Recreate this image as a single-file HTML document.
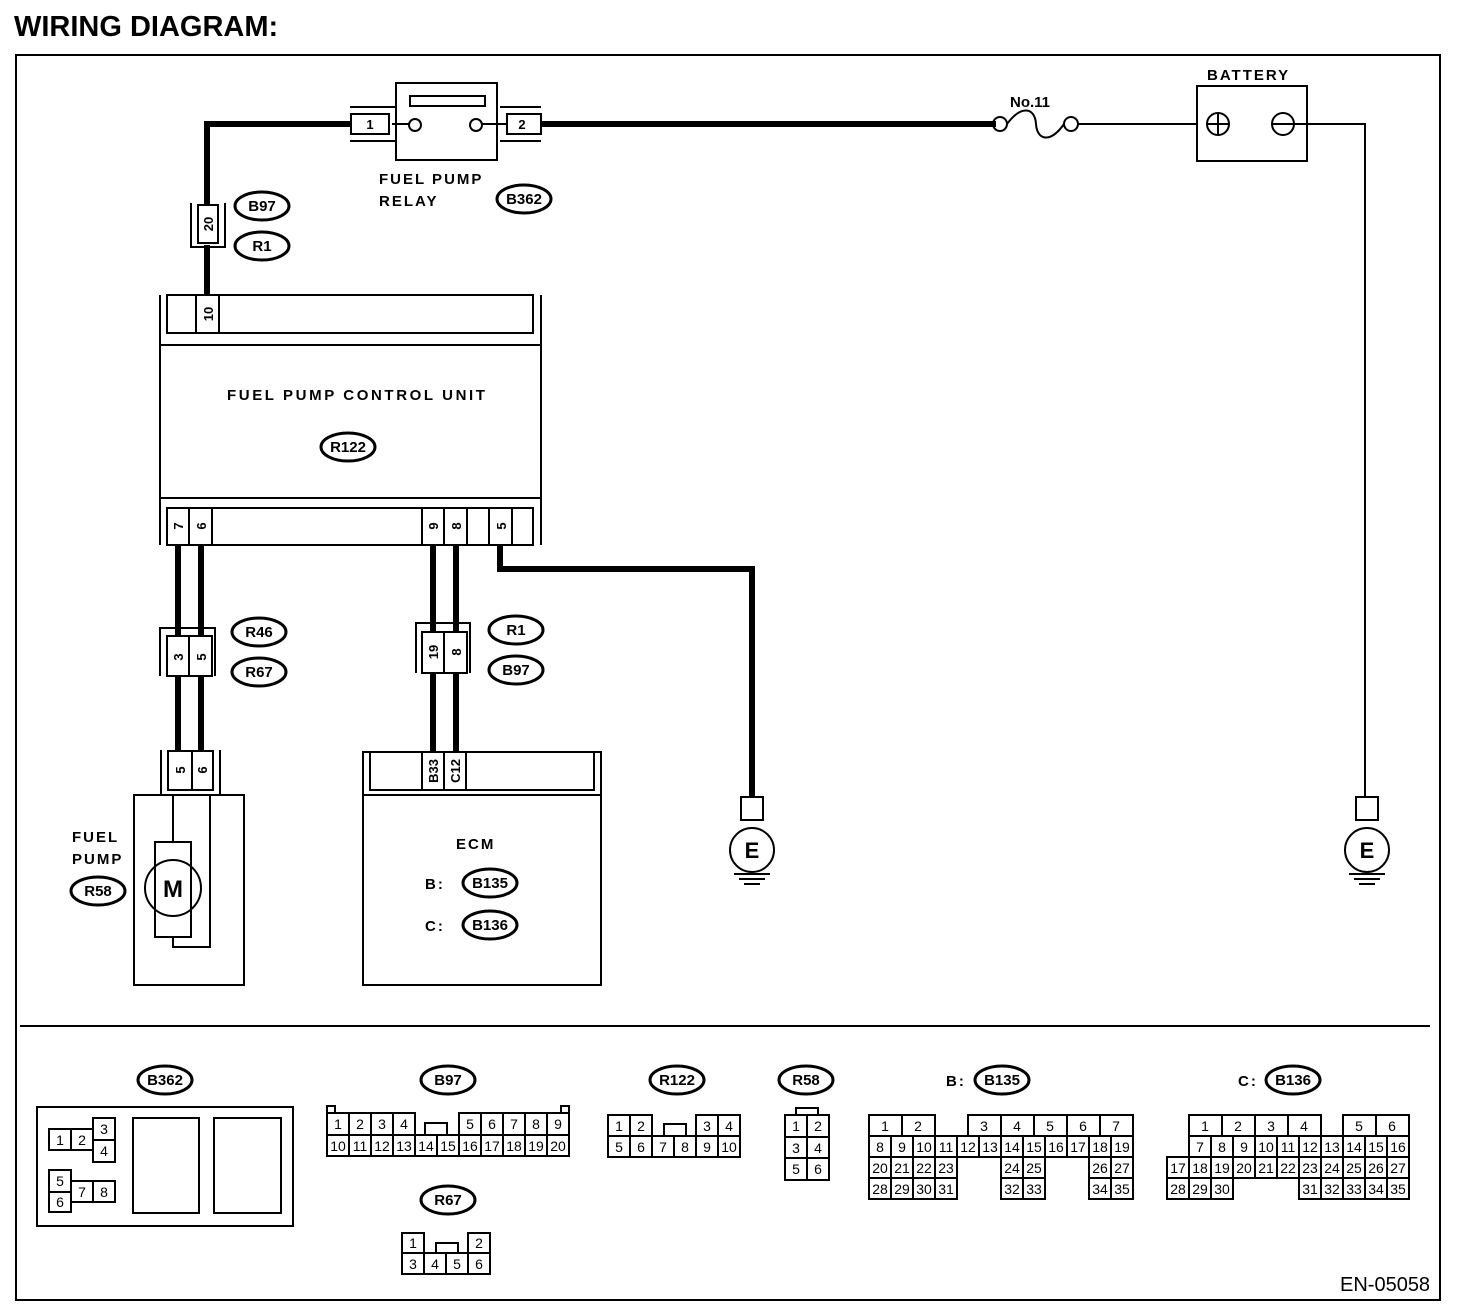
<!DOCTYPE html>
<html><head><meta charset="utf-8"><style>
html,body{margin:0;padding:0;background:#fff}
svg{display:block}
text{font-family:"Liberation Sans",Arial,sans-serif;fill:#000}
.c rect{fill:#fff;stroke:#000;stroke-width:2}
.c text{font-size:14px;text-anchor:middle}
.l{font-size:15px;font-weight:bold;letter-spacing:2px}
.o ellipse{fill:#fff;stroke:#000;stroke-width:3}
.o text{font-size:15px;font-weight:bold;text-anchor:middle}
.w{stroke:#000;stroke-width:6;fill:none}
.t{stroke:#000;stroke-width:2;fill:none}
.p rect{fill:#fff;stroke:#000;stroke-width:2}
.p text{font-size:13px;font-weight:bold;text-anchor:middle}
</style></head><body>
<svg width="1472" height="1316" viewBox="0 0 1472 1316" xmlns="http://www.w3.org/2000/svg">
<text x="14" y="36" style="font-size:29px;font-weight:bold">WIRING DIAGRAM:</text>
<rect x="16" y="55" width="1424" height="1245" class="t"/>
<line x1="20" y1="1026" x2="1430" y2="1026" class="t"/>

<!-- wires -->
<polyline class="w" points="350,124 207,124 207,205"/>
<line class="w" x1="207" y1="245" x2="207" y2="296"/>
<line class="w" x1="541" y1="124" x2="996" y2="124"/>
<polyline class="t" points="1077,124 1197,124"/>
<polyline class="t" points="1295,124 1365,124 1365,797"/>
<line class="w" x1="178" y1="545" x2="178" y2="752"/>
<line class="w" x1="201" y1="545" x2="201" y2="752"/>
<line class="w" x1="433" y1="545" x2="433" y2="754"/>
<line class="w" x1="456" y1="545" x2="456" y2="754"/>
<polyline class="w" points="500,545 500,569 752,569 752,797"/>

<!-- relay -->
<rect x="396" y="83" width="101" height="77" class="t" fill="#fff"/>
<rect x="410" y="96" width="75" height="10" class="t"/>
<line class="t" x1="392" y1="124" x2="410" y2="124"/>
<line class="t" x1="482" y1="124" x2="507" y2="124"/>
<circle cx="415" cy="125" r="6" class="t" fill="#fff"/>
<circle cx="476" cy="125" r="6" class="t" fill="#fff"/>
<g class="p">
<line class="t" x1="350" y1="107" x2="395" y2="107"/><line class="t" x1="350" y1="141" x2="395" y2="141"/>
<rect x="351" y="114" width="38" height="20"/><text x="370" y="129">1</text>
<line class="t" x1="500" y1="107" x2="541" y2="107"/><line class="t" x1="500" y1="141" x2="541" y2="141"/>
<rect x="507" y="114" width="34" height="20"/><text x="522" y="129">2</text>
</g>
<text x="379" y="184" class="l">FUEL PUMP</text>
<text x="379" y="206" class="l">RELAY</text>

<!-- fuse -->
<circle cx="1000" cy="124" r="7" class="t" fill="#fff"/>
<circle cx="1071" cy="124" r="7" class="t" fill="#fff"/>
<path class="t" d="M1007,124 C1022,104 1035,108 1036,124 C1037,140 1050,144 1064,124"/>
<text x="1010" y="107" style="font-size:15px;font-weight:bold">No.11</text>

<!-- battery -->
<rect x="1197" y="86" width="110" height="75" class="t"/>
<text x="1207" y="80" class="l">BATTERY</text>
<circle cx="1218" cy="124" r="11" class="t"/><line class="t" x1="1207" y1="124" x2="1229" y2="124"/><line class="t" x1="1218" y1="113" x2="1218" y2="135"/>
<circle cx="1283" cy="124" r="11" class="t"/><line class="t" x1="1272" y1="124" x2="1294" y2="124"/>

<!-- connector 20 -->
<polyline class="t" points="191,203 191,247 225,247 225,203"/>
<g class="p"><rect x="198" y="205" width="20" height="38"/><text transform="translate(213,224) rotate(-90)">20</text></g>

<!-- FPCU -->
<line class="t" x1="160" y1="295" x2="160" y2="545"/>
<line class="t" x1="541" y1="295" x2="541" y2="545"/>
<line class="t" x1="160" y1="345" x2="541" y2="345"/>
<line class="t" x1="160" y1="498" x2="541" y2="498"/>
<rect x="167" y="295" width="366" height="38" class="t"/>
<rect x="167" y="508" width="366" height="37" class="t"/>
<g class="p">
<rect x="196" y="295" width="23" height="38"/><text transform="translate(213,314) rotate(-90)">10</text>
<rect x="167" y="508" width="22" height="37"/><text transform="translate(183,526) rotate(-90)">7</text>
<rect x="189" y="508" width="23" height="37"/><text transform="translate(206,526) rotate(-90)">6</text>
<rect x="422" y="508" width="22" height="37"/><text transform="translate(438,526) rotate(-90)">9</text>
<rect x="444" y="508" width="23" height="37"/><text transform="translate(461,526) rotate(-90)">8</text>
<rect x="467" y="508" width="22" height="37"/>
<rect x="489" y="508" width="23" height="37"/><text transform="translate(506,526) rotate(-90)">5</text>
</g>
<text x="227" y="400" class="l" style="letter-spacing:2.6px">FUEL PUMP CONTROL UNIT</text>

<!-- R46/R67 connector -->
<polyline class="t" points="160,676 160,628 215,628 215,676"/>
<g class="p"><rect x="167" y="636" width="22" height="40"/><text transform="translate(183,657) rotate(-90)">3</text>
<rect x="189" y="636" width="23" height="40"/><text transform="translate(206,657) rotate(-90)">5</text></g>
<!-- R1/B97 connector -->
<polyline class="t" points="416,673 416,623 470,623 470,673"/>
<g class="p"><rect x="422" y="632" width="22" height="41"/><text transform="translate(438,652) rotate(-90)">19</text>
<rect x="444" y="632" width="23" height="41"/><text transform="translate(461,652) rotate(-90)">8</text></g>

<!-- fuel pump -->
<line class="t" x1="161" y1="750" x2="161" y2="795"/><line class="t" x1="220" y1="750" x2="220" y2="795"/>
<rect x="134" y="795" width="110" height="190" class="t"/>
<g class="p"><rect x="168" y="751" width="24" height="39"/><text transform="translate(185,770) rotate(-90)">5</text>
<rect x="192" y="751" width="21" height="39"/><text transform="translate(207,770) rotate(-90)">6</text></g>
<polyline class="t" points="173,795 173,842"/>
<rect x="155" y="842" width="36" height="95" class="t"/>
<polyline class="t" points="173,937 173,947 210,947 210,795"/>
<circle cx="173" cy="888" r="28" class="t" fill="#fff"/>
<text x="173" y="897" style="font-size:24px;font-weight:bold;text-anchor:middle">M</text>
<text x="72" y="842" class="l">FUEL</text>
<text x="72" y="864" class="l">PUMP</text>

<!-- ECM -->
<rect x="363" y="752" width="238" height="233" class="t"/>
<rect x="370" y="752" width="224" height="38" class="t"/>
<line class="t" x1="363" y1="795" x2="601" y2="795"/>
<g class="p"><rect x="422" y="752" width="22" height="38"/><text transform="translate(438,771) rotate(-90)">B33</text>
<rect x="444" y="752" width="22" height="38"/><text transform="translate(460,771) rotate(-90)">C12</text></g>
<text x="456" y="849" class="l">ECM</text>
<text x="425" y="889" class="l">B:</text>
<text x="425" y="931" class="l">C:</text>

<!-- grounds -->
<g>
<rect x="741" y="797" width="22" height="23" class="t"/>
<circle cx="752" cy="850" r="22" class="t"/>
<text x="752" y="858" style="font-size:22px;font-weight:bold;text-anchor:middle">E</text>
<line class="t" x1="734" y1="874" x2="770" y2="874"/><line class="t" x1="739" y1="879" x2="765" y2="879"/><line class="t" x1="744" y1="884" x2="760" y2="884"/>
</g>
<g>
<rect x="1356" y="797" width="22" height="23" class="t"/>
<circle cx="1367" cy="850" r="22" class="t"/>
<text x="1367" y="858" style="font-size:22px;font-weight:bold;text-anchor:middle">E</text>
<line class="t" x1="1349" y1="874" x2="1385" y2="874"/><line class="t" x1="1354" y1="879" x2="1380" y2="879"/><line class="t" x1="1359" y1="884" x2="1375" y2="884"/>
</g>

<!-- ovals -->
<g class="o">
<ellipse cx="262" cy="206" rx="27" ry="14"/><text x="262" y="211">B97</text>
<ellipse cx="262" cy="246" rx="27" ry="14"/><text x="262" y="251">R1</text>
<ellipse cx="524" cy="199" rx="27" ry="14"/><text x="524" y="204">B362</text>
<ellipse cx="348" cy="447" rx="27" ry="14"/><text x="348" y="452">R122</text>
<ellipse cx="259" cy="632" rx="27" ry="14"/><text x="259" y="637">R46</text>
<ellipse cx="259" cy="672" rx="27" ry="14"/><text x="259" y="677">R67</text>
<ellipse cx="516" cy="630" rx="27" ry="14"/><text x="516" y="635">R1</text>
<ellipse cx="516" cy="670" rx="27" ry="14"/><text x="516" y="675">B97</text>
<ellipse cx="98" cy="891" rx="27" ry="14"/><text x="98" y="896">R58</text>
<ellipse cx="490" cy="883" rx="27" ry="14"/><text x="490" y="888">B135</text>
<ellipse cx="490" cy="925" rx="27" ry="14"/><text x="490" y="930">B136</text>
<ellipse cx="165" cy="1080" rx="27" ry="14"/><text x="165" y="1085">B362</text>
<ellipse cx="448" cy="1080" rx="27" ry="14"/><text x="448" y="1085">B97</text>
<ellipse cx="677" cy="1080" rx="27" ry="14"/><text x="677" y="1085">R122</text>
<ellipse cx="806" cy="1080" rx="27" ry="14"/><text x="806" y="1085">R58</text>
<ellipse cx="1002" cy="1080" rx="27" ry="14"/><text x="1002" y="1085">B135</text>
<ellipse cx="1293" cy="1080" rx="27" ry="14"/><text x="1293" y="1085">B136</text>
<ellipse cx="448" cy="1200" rx="27" ry="14"/><text x="448" y="1205">R67</text>
</g>
<text x="946" y="1086" class="l">B:</text>
<text x="1238" y="1086" class="l">C:</text>

<!-- connector faces -->
<g class="c">
<rect x="37" y="1107" width="256" height="119"/>
<rect x="133" y="1118" width="66" height="95"/>
<rect x="214" y="1118" width="67" height="95"/>
<rect x="49" y="1129" width="22" height="21"/><text x="60" y="1145">1</text>
<rect x="71" y="1129" width="22" height="21"/><text x="82" y="1145">2</text>
<rect x="93" y="1118" width="22" height="22"/><text x="104" y="1134">3</text>
<rect x="93" y="1140" width="22" height="22"/><text x="104" y="1156">4</text>
<rect x="49" y="1170" width="22" height="22"/><text x="60" y="1186">5</text>
<rect x="49" y="1192" width="22" height="20"/><text x="60" y="1207">6</text>
<rect x="71" y="1181" width="22" height="21"/><text x="82" y="1197">7</text>
<rect x="93" y="1181" width="22" height="21"/><text x="104" y="1197">8</text>

<rect x="327" y="1106" width="8" height="7"/><rect x="561" y="1106" width="8" height="7"/>
<rect x="425" y="1123" width="22" height="12"/>
<rect x="327" y="1113" width="22" height="22"/><text x="338" y="1129">1</text>
<rect x="349" y="1113" width="22" height="22"/><text x="360" y="1129">2</text>
<rect x="371" y="1113" width="22" height="22"/><text x="382" y="1129">3</text>
<rect x="393" y="1113" width="22" height="22"/><text x="404" y="1129">4</text>
<rect x="459" y="1113" width="22" height="22"/><text x="470" y="1129">5</text>
<rect x="481" y="1113" width="22" height="22"/><text x="492" y="1129">6</text>
<rect x="503" y="1113" width="22" height="22"/><text x="514" y="1129">7</text>
<rect x="525" y="1113" width="22" height="22"/><text x="536" y="1129">8</text>
<rect x="547" y="1113" width="22" height="22"/><text x="558" y="1129">9</text>
<rect x="327" y="1135" width="22" height="21"/><text x="338" y="1151">10</text>
<rect x="349" y="1135" width="22" height="21"/><text x="360" y="1151">11</text>
<rect x="371" y="1135" width="22" height="21"/><text x="382" y="1151">12</text>
<rect x="393" y="1135" width="22" height="21"/><text x="404" y="1151">13</text>
<rect x="415" y="1135" width="22" height="21"/><text x="426" y="1151">14</text>
<rect x="437" y="1135" width="22" height="21"/><text x="448" y="1151">15</text>
<rect x="459" y="1135" width="22" height="21"/><text x="470" y="1151">16</text>
<rect x="481" y="1135" width="22" height="21"/><text x="492" y="1151">17</text>
<rect x="503" y="1135" width="22" height="21"/><text x="514" y="1151">18</text>
<rect x="525" y="1135" width="22" height="21"/><text x="536" y="1151">19</text>
<rect x="547" y="1135" width="22" height="21"/><text x="558" y="1151">20</text>

<rect x="664" y="1124" width="22" height="12"/>
<rect x="608" y="1115" width="22" height="21"/><text x="619" y="1131">1</text>
<rect x="630" y="1115" width="22" height="21"/><text x="641" y="1131">2</text>
<rect x="696" y="1115" width="22" height="21"/><text x="707" y="1131">3</text>
<rect x="718" y="1115" width="22" height="21"/><text x="729" y="1131">4</text>
<rect x="608" y="1136" width="22" height="21"/><text x="619" y="1152">5</text>
<rect x="630" y="1136" width="22" height="21"/><text x="641" y="1152">6</text>
<rect x="652" y="1136" width="22" height="21"/><text x="663" y="1152">7</text>
<rect x="674" y="1136" width="22" height="21"/><text x="685" y="1152">8</text>
<rect x="696" y="1136" width="22" height="21"/><text x="707" y="1152">9</text>
<rect x="718" y="1136" width="22" height="21"/><text x="729" y="1152">10</text>

<rect x="436" y="1243" width="22" height="10"/>
<rect x="402" y="1233" width="22" height="20"/><text x="413" y="1248">1</text>
<rect x="468" y="1233" width="22" height="20"/><text x="479" y="1248">2</text>
<rect x="402" y="1253" width="22" height="21"/><text x="413" y="1269">3</text>
<rect x="424" y="1253" width="22" height="21"/><text x="435" y="1269">4</text>
<rect x="446" y="1253" width="22" height="21"/><text x="457" y="1269">5</text>
<rect x="468" y="1253" width="22" height="21"/><text x="479" y="1269">6</text>

<rect x="796" y="1108" width="22" height="7"/>
<rect x="785" y="1115" width="22" height="22"/><text x="796" y="1131">1</text>
<rect x="807" y="1115" width="22" height="22"/><text x="818" y="1131">2</text>
<rect x="785" y="1137" width="22" height="21"/><text x="796" y="1153">3</text>
<rect x="807" y="1137" width="22" height="21"/><text x="818" y="1153">4</text>
<rect x="785" y="1158" width="22" height="22"/><text x="796" y="1174">5</text>
<rect x="807" y="1158" width="22" height="22"/><text x="818" y="1174">6</text>

<rect x="869" y="1115" width="33" height="21"/><text x="885" y="1131">1</text>
<rect x="902" y="1115" width="33" height="21"/><text x="918" y="1131">2</text>
<rect x="968" y="1115" width="33" height="21"/><text x="984" y="1131">3</text>
<rect x="1001" y="1115" width="33" height="21"/><text x="1017" y="1131">4</text>
<rect x="1034" y="1115" width="33" height="21"/><text x="1050" y="1131">5</text>
<rect x="1067" y="1115" width="33" height="21"/><text x="1083" y="1131">6</text>
<rect x="1100" y="1115" width="33" height="21"/><text x="1116" y="1131">7</text>
<rect x="869" y="1136" width="22" height="21"/><text x="880" y="1152">8</text>
<rect x="891" y="1136" width="22" height="21"/><text x="902" y="1152">9</text>
<rect x="913" y="1136" width="22" height="21"/><text x="924" y="1152">10</text>
<rect x="935" y="1136" width="22" height="21"/><text x="946" y="1152">11</text>
<rect x="957" y="1136" width="22" height="21"/><text x="968" y="1152">12</text>
<rect x="979" y="1136" width="22" height="21"/><text x="990" y="1152">13</text>
<rect x="1001" y="1136" width="22" height="21"/><text x="1012" y="1152">14</text>
<rect x="1023" y="1136" width="22" height="21"/><text x="1034" y="1152">15</text>
<rect x="1045" y="1136" width="22" height="21"/><text x="1056" y="1152">16</text>
<rect x="1067" y="1136" width="22" height="21"/><text x="1078" y="1152">17</text>
<rect x="1089" y="1136" width="22" height="21"/><text x="1100" y="1152">18</text>
<rect x="1111" y="1136" width="22" height="21"/><text x="1122" y="1152">19</text>
<rect x="869" y="1157" width="22" height="21"/><text x="880" y="1173">20</text>
<rect x="891" y="1157" width="22" height="21"/><text x="902" y="1173">21</text>
<rect x="913" y="1157" width="22" height="21"/><text x="924" y="1173">22</text>
<rect x="935" y="1157" width="22" height="21"/><text x="946" y="1173">23</text>
<rect x="1001" y="1157" width="22" height="21"/><text x="1012" y="1173">24</text>
<rect x="1023" y="1157" width="22" height="21"/><text x="1034" y="1173">25</text>
<rect x="1089" y="1157" width="22" height="21"/><text x="1100" y="1173">26</text>
<rect x="1111" y="1157" width="22" height="21"/><text x="1122" y="1173">27</text>
<rect x="869" y="1178" width="22" height="21"/><text x="880" y="1194">28</text>
<rect x="891" y="1178" width="22" height="21"/><text x="902" y="1194">29</text>
<rect x="913" y="1178" width="22" height="21"/><text x="924" y="1194">30</text>
<rect x="935" y="1178" width="22" height="21"/><text x="946" y="1194">31</text>
<rect x="1001" y="1178" width="22" height="21"/><text x="1012" y="1194">32</text>
<rect x="1023" y="1178" width="22" height="21"/><text x="1034" y="1194">33</text>
<rect x="1089" y="1178" width="22" height="21"/><text x="1100" y="1194">34</text>
<rect x="1111" y="1178" width="22" height="21"/><text x="1122" y="1194">35</text>

<rect x="1189" y="1115" width="33" height="21"/><text x="1205" y="1131">1</text>
<rect x="1222" y="1115" width="33" height="21"/><text x="1238" y="1131">2</text>
<rect x="1255" y="1115" width="33" height="21"/><text x="1271" y="1131">3</text>
<rect x="1288" y="1115" width="33" height="21"/><text x="1304" y="1131">4</text>
<rect x="1343" y="1115" width="33" height="21"/><text x="1359" y="1131">5</text>
<rect x="1376" y="1115" width="33" height="21"/><text x="1392" y="1131">6</text>
<rect x="1189" y="1136" width="22" height="21"/><text x="1200" y="1152">7</text>
<rect x="1211" y="1136" width="22" height="21"/><text x="1222" y="1152">8</text>
<rect x="1233" y="1136" width="22" height="21"/><text x="1244" y="1152">9</text>
<rect x="1255" y="1136" width="22" height="21"/><text x="1266" y="1152">10</text>
<rect x="1277" y="1136" width="22" height="21"/><text x="1288" y="1152">11</text>
<rect x="1299" y="1136" width="22" height="21"/><text x="1310" y="1152">12</text>
<rect x="1321" y="1136" width="22" height="21"/><text x="1332" y="1152">13</text>
<rect x="1343" y="1136" width="22" height="21"/><text x="1354" y="1152">14</text>
<rect x="1365" y="1136" width="22" height="21"/><text x="1376" y="1152">15</text>
<rect x="1387" y="1136" width="22" height="21"/><text x="1398" y="1152">16</text>
<rect x="1167" y="1157" width="22" height="21"/><text x="1178" y="1173">17</text>
<rect x="1189" y="1157" width="22" height="21"/><text x="1200" y="1173">18</text>
<rect x="1211" y="1157" width="22" height="21"/><text x="1222" y="1173">19</text>
<rect x="1233" y="1157" width="22" height="21"/><text x="1244" y="1173">20</text>
<rect x="1255" y="1157" width="22" height="21"/><text x="1266" y="1173">21</text>
<rect x="1277" y="1157" width="22" height="21"/><text x="1288" y="1173">22</text>
<rect x="1299" y="1157" width="22" height="21"/><text x="1310" y="1173">23</text>
<rect x="1321" y="1157" width="22" height="21"/><text x="1332" y="1173">24</text>
<rect x="1343" y="1157" width="22" height="21"/><text x="1354" y="1173">25</text>
<rect x="1365" y="1157" width="22" height="21"/><text x="1376" y="1173">26</text>
<rect x="1387" y="1157" width="22" height="21"/><text x="1398" y="1173">27</text>
<rect x="1167" y="1178" width="22" height="21"/><text x="1178" y="1194">28</text>
<rect x="1189" y="1178" width="22" height="21"/><text x="1200" y="1194">29</text>
<rect x="1211" y="1178" width="22" height="21"/><text x="1222" y="1194">30</text>
<rect x="1299" y="1178" width="22" height="21"/><text x="1310" y="1194">31</text>
<rect x="1321" y="1178" width="22" height="21"/><text x="1332" y="1194">32</text>
<rect x="1343" y="1178" width="22" height="21"/><text x="1354" y="1194">33</text>
<rect x="1365" y="1178" width="22" height="21"/><text x="1376" y="1194">34</text>
<rect x="1387" y="1178" width="22" height="21"/><text x="1398" y="1194">35</text>
</g>

<text x="1340" y="1291" style="font-size:20px">EN-05058</text>
</svg>
</body></html>
